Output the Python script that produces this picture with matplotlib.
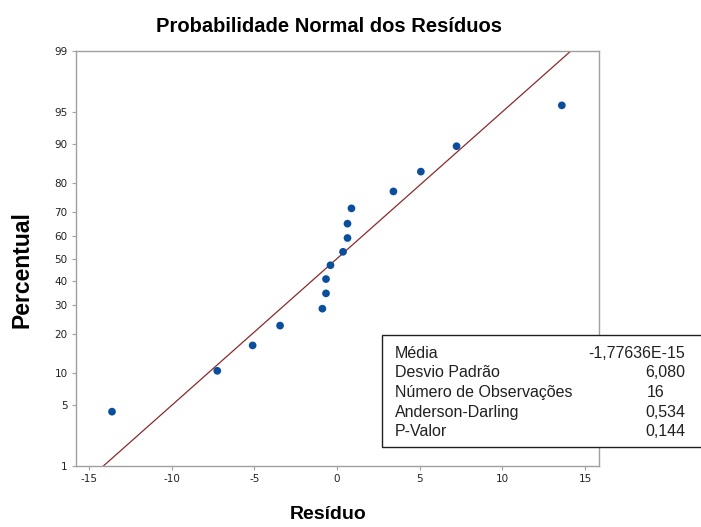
import numpy as np
import matplotlib
matplotlib.use("Agg")
import matplotlib.pyplot as plt
from matplotlib.patches import Rectangle
from statistics import NormalDist

# residuos ordenados e percentuais (posicao de plotagem)
residuos = [-13.62, -7.25, -5.11, -3.45, -0.89, -0.67, -0.67, -0.40,
            0.36, 0.63, 0.63, 0.87, 3.41, 5.07, 7.23, 13.60]
percentuais = [4.3, 10.4, 16.5, 22.6, 28.7, 34.8, 40.9, 47.0,
               53.0, 59.1, 65.2, 71.3, 77.4, 83.5, 89.6, 95.7]

media = -1.77636e-15
desvio = 6.080
n_obs = 16
ad = 0.534
p_valor = 0.144

y_ticks = [1, 5, 10, 20, 30, 40, 50, 60, 70, 80, 90, 95, 99]
x_ticks = [-15, -10, -5, 0, 5, 10, 15]

nd = NormalDist()
_ppf = np.vectorize(lambda p: nd.inv_cdf(min(max(p / 100.0, 1e-9), 1 - 1e-9)),
                    otypes=[float])
_cdf = np.vectorize(lambda z: 100.0 * nd.cdf(z), otypes=[float])


def prob_forward(p):
    return _ppf(np.asarray(p, dtype=float))


def prob_inverse(z):
    return _cdf(np.asarray(z, dtype=float))


plt.rcParams['font.family'] = ['Liberation Sans', 'DejaVu Sans']

fig = plt.figure(figsize=(7.01, 5.27), dpi=100)
ax = fig.add_axes([0.1084, 0.1157, 0.7461, 0.7875])
ax.set_yscale('function', functions=(prob_forward, prob_inverse))

# reta ajustada pela media e desvio padrao
p_linha = np.array([1.0, 99.0])
x_linha = media + desvio * np.array([nd.inv_cdf(p / 100) for p in p_linha])
ax.plot(x_linha, p_linha, color='#8a2a2a', lw=0.9, zorder=2)

ax.scatter(residuos, percentuais, s=31, color='#0b4f9c', zorder=3,
           edgecolors='none')

ax.set_xlim(-15.8, 15.85)
ax.set_ylim(1, 99)
ax.set_yticks(y_ticks)
ax.set_yticklabels([str(t) for t in y_ticks])
ax.minorticks_off()
ax.set_xticks(x_ticks)
ax.set_xticklabels([str(t) for t in x_ticks])

for s in ax.spines.values():
    s.set_color('#a0a0a0')
    s.set_linewidth(1.0)
ax.tick_params(axis='both', length=3, width=0.8, color='#a0a0a0',
               labelsize=7.5, labelcolor='#222222', pad=3)
for lab in ax.get_xticklabels() + ax.get_yticklabels():
    lab.set_family('DejaVu Sans')

fig.text(0.469, 0.949, 'Probabilidade Normal dos Resíduos', ha='center',
         va='center', fontsize=14.5, fontweight='bold')
fig.text(0.468, 0.024, 'Resíduo', ha='center', va='center',
         fontsize=14, fontweight='bold')
fig.text(0.031, 0.488, 'Percentual', ha='center', va='center',
         rotation=90, fontsize=16.5, fontweight='bold')

# quadro de estatisticas
W, H = 701.0, 527.0
box = Rectangle((382 / W, 1 - 447 / H), 330 / W, 112 / H,
                transform=fig.transFigure, facecolor='white',
                edgecolor='#202020', lw=1.0, zorder=5)
fig.patches.append(box)

linhas = [
    ('Média', '-1,77636E-15', 'r'),
    ('Desvio Padrão', f'{desvio:.3f}'.replace('.', ','), 'r'),
    ('Número de Observações', str(n_obs), 'l'),
    ('Anderson-Darling', f'{ad:.3f}'.replace('.', ','), 'r'),
    ('P-Valor', f'{p_valor:.3f}'.replace('.', ','), 'r'),
]
y0 = 353
for i, (rot, val, al) in enumerate(linhas):
    yy = 1 - (y0 + 19.7 * i) / H
    fig.text(395 / W, yy, rot, ha='left', va='center', fontsize=11.5,
             color='#202020', zorder=6)
    if al == 'r':
        fig.text(685 / W, yy, val, ha='right', va='center', fontsize=11.5,
                 color='#202020', zorder=6)
    else:
        fig.text(647 / W, yy, val, ha='left', va='center', fontsize=11.5,
                 color='#202020', zorder=6)

fig.savefig('out.png', dpi=100)
